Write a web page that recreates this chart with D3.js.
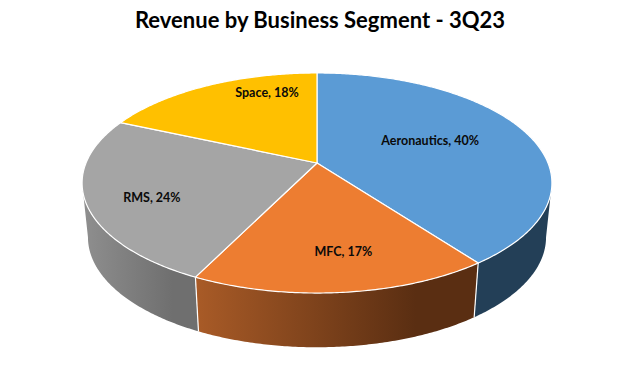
<!DOCTYPE html>
<html>
<head>
<meta charset="utf-8">
<script src="https://cdn.jsdelivr.net/npm/d3@7"></script>
<style>html,body{margin:0;padding:0;background:#fff}svg{display:block}</style>
</head>
<body>
<svg id="chart" width="640" height="381"></svg>
<script>
const chartTitle = "Revenue by Business Segment - 3Q23";
const categories = ["Aeronautics", "MFC", "RMS", "Space"];
const shares = [39.8, 17.4, 24.4, 18.3];
const topColors = ["#5B9BD5", "#ED7D31", "#A5A5A5", "#FFC000"];
const sideStart = ["#233F57", "#A95B27", "#8F8F8F", "#997300"];
const sideEnd = ["#233F57", "#5A2E12", "#6F6F6F", "#997300"];

const svg = d3.select("#chart");
const cx = 317, apexY = 163, halfW = 231, halfH = 106.4, tilt = 0.1818;
const depth = 54.2, baseShrink = 0.975;

const sx = d3.scaleLinear().domain([-1, 1]).range([cx - halfW, cx + halfW]);
const sy = d3.scaleLinear().domain([-1, 1]).range([apexY + halfH, apexY - halfH]);

function project(theta, r = 1) {
  const u = r * Math.sin(theta), v = r * Math.cos(theta), d = 1 + tilt * v;
  return [sx(u / d), sy(v / d)];
}
function projectBase(theta) {
  const [x, y] = project(theta);
  return [cx + (x - cx) * baseShrink, y + depth];
}
function samples(a0, a1) {
  const n = Math.max(2, Math.ceil(Math.abs(a1 - a0) / 0.01));
  return d3.range(n + 1).map(i => a0 + (a1 - a0) * i / n);
}

const arcs = d3.pie().sort(null).value(d => d)(shares);
const line = d3.line();
const limitR = Math.acos(-tilt), limitL = 2 * Math.PI - limitR;

const defs = svg.append("defs");

// side walls: only the part of each slice that faces the viewer
const walls = arcs.map((a, i) => ({
  i,
  a0: Math.max(a.startAngle, limitR),
  a1: Math.min(a.endAngle, limitL)
})).filter(w => w.a1 > w.a0);

walls.forEach(w => {
  const ts = samples(w.a0, w.a1);
  const xs = ts.map(t => projectBase(t)[0]).concat(ts.map(t => project(t)[0]));
  const grad = defs.append("linearGradient")
    .attr("id", "side" + w.i)
    .attr("gradientUnits", "userSpaceOnUse")
    .attr("x1", d3.min(xs)).attr("x2", d3.max(xs)).attr("y1", 0).attr("y2", 0);
  grad.append("stop").attr("offset", 0).attr("stop-color", sideStart[w.i]);
  grad.append("stop").attr("offset", 0.78).attr("stop-color", sideEnd[w.i]);
  grad.append("stop").attr("offset", 1).attr("stop-color", sideEnd[w.i]);
});

svg.append("g").selectAll("path").data(walls).join("path")
  .attr("d", w => {
    const ts = samples(w.a0, w.a1);
    return line(ts.map(t => project(t)).concat(ts.slice().reverse().map(t => projectBase(t)))) + "Z";
  })
  .attr("fill", w => `url(#side${w.i})`);

// seams between the walls
svg.append("g").selectAll("line").data(walls.filter(w => w.a0 > limitR)).join("line")
  .attr("x1", w => project(w.a0)[0]).attr("y1", w => project(w.a0)[1])
  .attr("x2", w => projectBase(w.a0)[0]).attr("y2", w => projectBase(w.a0)[1])
  .attr("stroke", "#fff").attr("stroke-width", 1.2);

// top face
svg.append("g").selectAll("path").data(arcs).join("path")
  .attr("d", a => line([[cx, apexY]].concat(samples(a.startAngle, a.endAngle).map(t => project(t)))) + "Z")
  .attr("fill", (a, i) => topColors[i])
  .attr("stroke", "#fff").attr("stroke-width", 1.2).attr("stroke-linejoin", "round");

// labels
const labelRadius = [0.557, 0.726, 0.742, 0.798];
const labelTurnDeg = [-5.5, -2.6, -4.7, 15];
const pct = d3.format(".0f");
svg.append("g").selectAll("text").data(arcs).join("text")
  .attr("transform", (a, i) => {
    const mid = (a.startAngle + a.endAngle) / 2 + labelTurnDeg[i] * Math.PI / 180;
    const [x, y] = project(mid, labelRadius[i]);
    return `translate(${x},${y})`;
  })
  .attr("text-anchor", "middle").attr("dominant-baseline", "central")
  .attr("font-family", "Lato, 'Open Sans', sans-serif").attr("font-weight", 700)
  .attr("font-size", 12.5).attr("fill", "#0a0a0a")
  .text((a, i) => `${categories[i]}, ${pct(a.value)}%`);

// title
svg.append("text")
  .attr("x", 320).attr("y", 19)
  .attr("text-anchor", "middle").attr("dominant-baseline", "central")
  .attr("font-family", "Lato, 'Open Sans', sans-serif").attr("font-weight", 700)
  .attr("font-size", 22).attr("fill", "#000")
  .text(chartTitle);
</script>
</body>
</html>
